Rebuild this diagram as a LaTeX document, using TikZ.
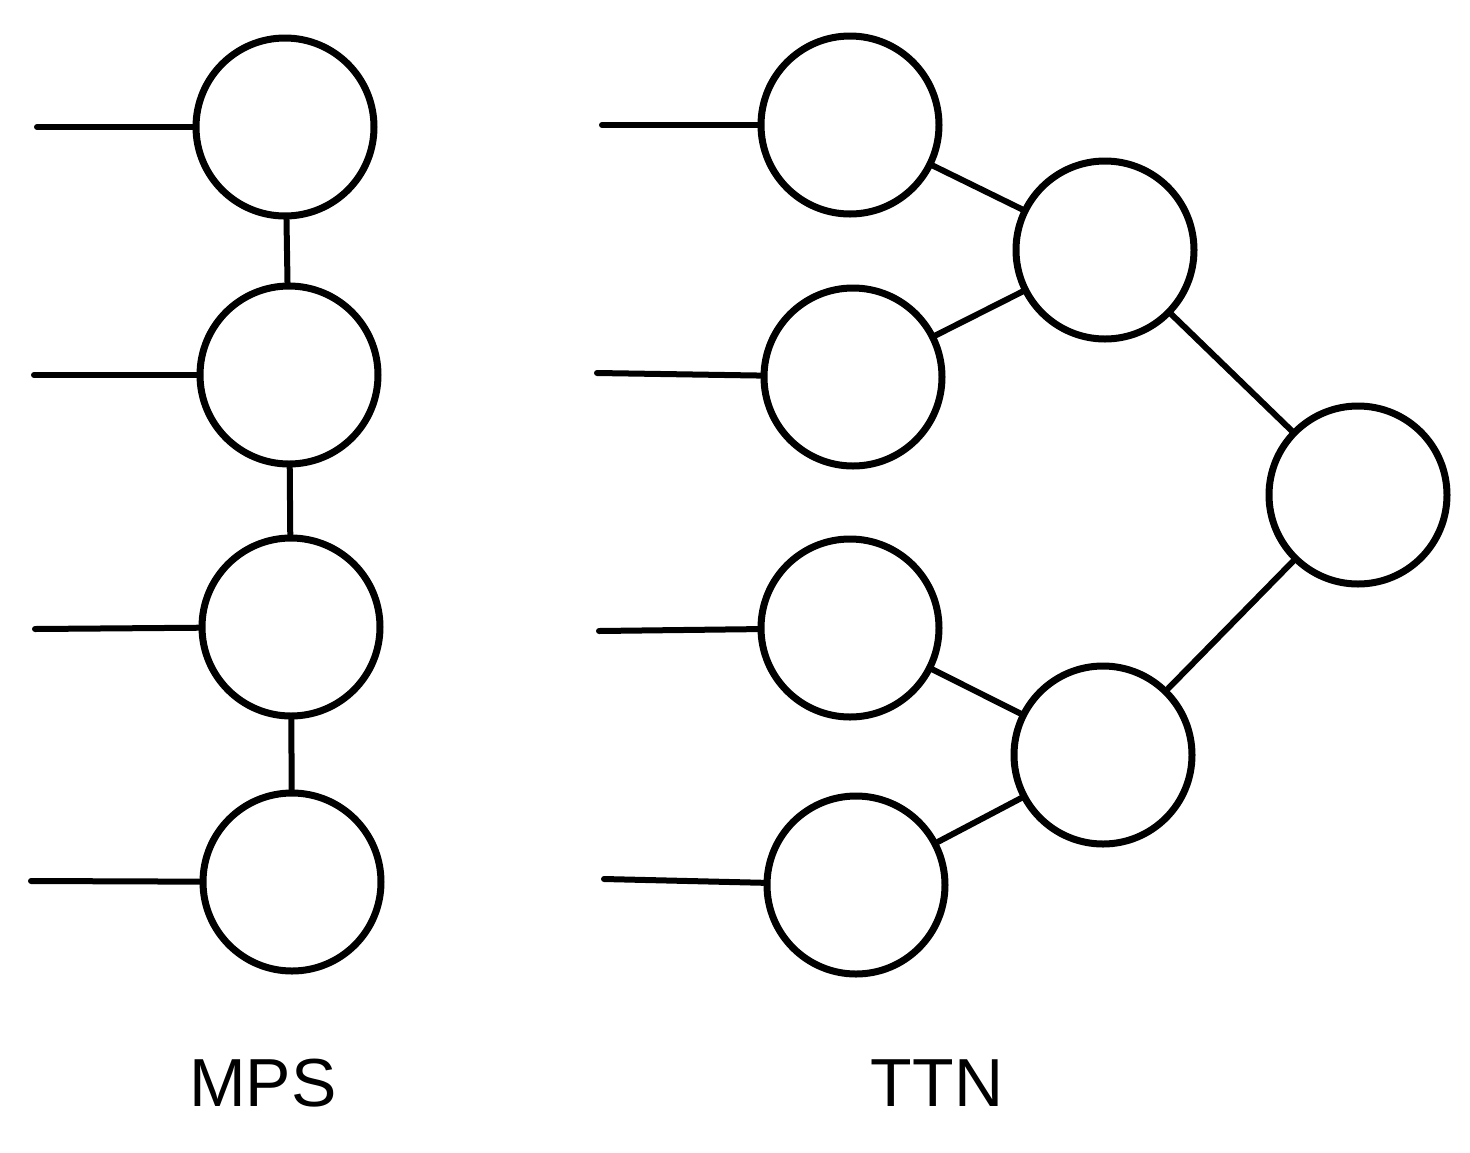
\documentclass[tikz,border=0pt]{standalone}
\usepackage{fontspec}
\setmainfont{Liberation Sans}
\begin{document}
\begin{tikzpicture}[x=1pt,y=-1pt,
  tn/.style={circle,draw=black,line width=7pt,minimum size=178pt,inner sep=0pt},
  bond/.style={draw=black,line width=6pt,line cap=round},
  lbl/.style={font=\fontsize{68}{76}\selectfont,text=black}]
\useasboundingbox[fill=white] (0,0) rectangle (1470,1152);
% MPS
\node[tn] (m1) at (285,127) {};
\node[tn] (m2) at (289,375) {};
\node[tn] (m3) at (291,627) {};
\node[tn] (m4) at (292,882) {};
\coordinate (ma1) at (37,127);
\coordinate (ma2) at (34,375);
\coordinate (ma3) at (35,629);
\coordinate (ma4) at (31,881);
\draw[bond] (ma1) -- (m1);
\draw[bond] (ma2) -- (m2);
\draw[bond] (ma3) -- (m3);
\draw[bond] (ma4) -- (m4);
\draw[bond] (m1) -- (m2);
\draw[bond] (m2) -- (m3);
\draw[bond] (m3) -- (m4);
% TTN
\node[tn] (l1) at (850,125) {};
\node[tn] (l2) at (853,377) {};
\node[tn] (l3) at (850,628) {};
\node[tn] (l4) at (856,885) {};
\node[tn] (n1) at (1105,250) {};
\node[tn] (n2) at (1103,755) {};
\node[tn] (r) at (1358,495) {};
\coordinate (ta1) at (602,125);
\coordinate (ta2) at (597,373);
\coordinate (ta3) at (599,631);
\coordinate (ta4) at (604,879);
\draw[bond] (ta1) -- (l1);
\draw[bond] (ta2) -- (l2);
\draw[bond] (ta3) -- (l3);
\draw[bond] (ta4) -- (l4);
\draw[bond] (l1) -- (n1);
\draw[bond] (l2) -- (n1);
\draw[bond] (l3) -- (n2);
\draw[bond] (l4) -- (n2);
\draw[bond] (n1) -- (r);
\draw[bond] (n2) -- (r);
% labels
\node[lbl] (tmps) at (263,1083) {MPS};
\node[lbl] (tttn) at (937,1083) {TTN};
\end{tikzpicture}
\end{document}
